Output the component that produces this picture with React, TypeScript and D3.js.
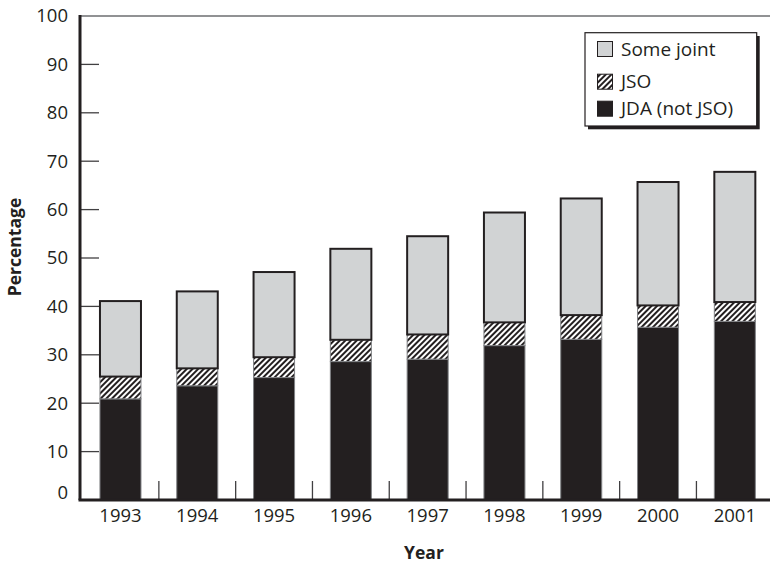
import React, { useEffect, useRef } from 'react';
import * as d3 from 'd3';

const years = ['1993', '1994', '1995', '1996', '1997', '1998', '1999', '2000', '2001'];
const jdaNotJso = [20.9, 23.6, 25.3, 28.6, 29.1, 31.9, 33.2, 35.7, 36.9];
const jso = [4.6, 3.6, 4.2, 4.5, 5.1, 4.8, 5.0, 4.5, 4.0];
const someJoint = [15.6, 15.9, 17.6, 18.8, 20.3, 22.7, 24.1, 25.5, 26.9];
const yTicks = [0, 10, 20, 30, 40, 50, 60, 70, 80, 90, 100];
const legendLabels = ['Some joint', 'JSO', 'JDA (not JSO)'];

const W = 770;
const H = 563;
const FONT = '"Open Sans", "DejaVu Sans", sans-serif';
const INK = '#231f20';

export default function App() {
  const svgRef = useRef<SVGSVGElement>(null);

  useEffect(() => {
    if (!svgRef.current) return;
    const svg = d3.select(svgRef.current);
    svg.selectAll('*').remove();

    const margin = { top: 16, left: 80, bottom: 500 };

    // hatch for JSO
    const defs = svg.append('defs');
    const pat = defs.append('pattern')
      .attr('id', 'hatch')
      .attr('patternUnits', 'userSpaceOnUse')
      .attr('width', 4)
      .attr('height', 4)
      .attr('patternTransform', 'rotate(45)');
    pat.append('rect').attr('width', 4).attr('height', 4).attr('fill', '#fff');
    pat.append('rect').attr('width', 2).attr('height', 4).attr('fill', INK);

    const rows = years.map((y, i) => ({
      year: y,
      jda: jdaNotJso[i],
      jso: jso[i],
      some: someJoint[i],
    }));

    const x = d3.scaleBand()
      .domain(years)
      .range([margin.left, 775.3])
      .paddingInner(0.466)
      .paddingOuter(0.26);

    const y = d3.scaleLinear().domain([0, 100]).range([margin.bottom, margin.top]);

    const stack = d3.stack<any>().keys(['jda', 'jso', 'some'])(rows);
    const fills: Record<string, string> = { jda: INK, jso: 'url(#hatch)', some: '#d1d3d4' };

    const g = svg.append('g');

    // top frame line
    g.append('line')
      .attr('x1', margin.left).attr('x2', W)
      .attr('y1', y(100)).attr('y2', y(100))
      .attr('stroke', '#6d6e71').attr('stroke-width', 1.5);

    // stacked bars
    stack.forEach(layer => {
      g.append('g')
        .selectAll('rect')
        .data(layer)
        .enter()
        .append('rect')
        .attr('x', d => x((d.data as any).year)!)
        .attr('y', d => y(d[1]))
        .attr('width', x.bandwidth())
        .attr('height', d => y(d[0]) - y(d[1]))
        .attr('fill', fills[layer.key])
        .attr('stroke', layer.key === 'some' ? INK : '#808285')
        .attr('stroke-width', layer.key === 'some' ? 2 : 1);
    });

    // y ticks (inward)
    g.append('g')
      .selectAll('line')
      .data(yTicks.filter(t => t > 0 && t < 100))
      .enter()
      .append('line')
      .attr('x1', margin.left).attr('x2', margin.left + 19)
      .attr('y1', d => y(d)).attr('y2', d => y(d))
      .attr('stroke', '#414042').attr('stroke-width', 1.3);

    g.append('g')
      .selectAll('text')
      .data(yTicks)
      .enter()
      .append('text')
      .attr('x', 68)
      .attr('y', d => (d === 0 ? y(d) - 7 : y(d)))
      .attr('dy', '0.35em')
      .attr('text-anchor', 'end')
      .attr('font-family', FONT)
      .attr('font-size', 18.5)
      .attr('fill', INK)
      .text(d => d);

    // x separator ticks between bars
    const seps = years.slice(1).map(yr => x(yr)! - x.step() * x.paddingInner() / 2);
    g.append('g')
      .selectAll('line')
      .data(seps)
      .enter()
      .append('line')
      .attr('x1', d => d).attr('x2', d => d)
      .attr('y1', margin.bottom - 19).attr('y2', margin.bottom)
      .attr('stroke', '#414042').attr('stroke-width', 1.3);

    g.append('g')
      .selectAll('text')
      .data(years)
      .enter()
      .append('text')
      .attr('x', d => x(d)! + x.bandwidth() / 2)
      .attr('y', 516)
      .attr('dy', '0.35em')
      .attr('text-anchor', 'middle')
      .attr('font-family', FONT)
      .attr('font-size', 18.5)
      .attr('fill', INK)
      .text(d => d);

    // axes
    g.append('line')
      .attr('x1', margin.left - 1.5).attr('x2', W)
      .attr('y1', margin.bottom).attr('y2', margin.bottom)
      .attr('stroke', INK).attr('stroke-width', 3);
    g.append('line')
      .attr('x1', margin.left).attr('x2', margin.left)
      .attr('y1', margin.top - 1).attr('y2', margin.bottom)
      .attr('stroke', INK).attr('stroke-width', 3);

    // axis titles
    g.append('text')
      .attr('x', 424).attr('y', 553)
      .attr('dy', '0.35em')
      .attr('text-anchor', 'middle')
      .attr('font-family', FONT)
      .attr('font-weight', 'bold')
      .attr('font-size', 17.5)
      .attr('fill', INK)
      .text('Year');
    g.append('text')
      .attr('transform', 'translate(15,247) rotate(-90)')
      .attr('dy', '0.35em')
      .attr('text-anchor', 'middle')
      .attr('font-family', FONT)
      .attr('font-weight', 'bold')
      .attr('font-size', 17.5)
      .attr('fill', INK)
      .text('Percentage');

    // legend
    const lg = g.append('g');
    lg.append('rect')
      .attr('x', 588).attr('y', 36).attr('width', 171.7).attr('height', 93.3)
      .attr('fill', INK);
    lg.append('rect')
      .attr('x', 585).attr('y', 32.7).attr('width', 171.7).attr('height', 93.3)
      .attr('fill', '#fff').attr('stroke', INK).attr('stroke-width', 1.2);
    const keys = ['some', 'jso', 'jda'];
    const rowY = [49, 81.7, 108.7];
    legendLabels.forEach((lbl, i) => {
      lg.append('rect')
        .attr('x', 597.5).attr('y', rowY[i] - 7.5).attr('width', 15).attr('height', 15)
        .attr('fill', fills[keys[i]])
        .attr('stroke', INK).attr('stroke-width', 1);
      lg.append('text')
        .attr('x', 621).attr('y', rowY[i])
        .attr('dy', '0.35em')
        .attr('font-family', FONT)
        .attr('font-size', 19)
        .attr('fill', INK)
        .text(lbl);
    });
  }, []);

  return (
    <svg
      ref={svgRef}
      width={W}
      height={H}
      style={{ display: 'block', position: 'absolute', left: 0, top: 0, background: '#fff' }}
    />
  );
}
